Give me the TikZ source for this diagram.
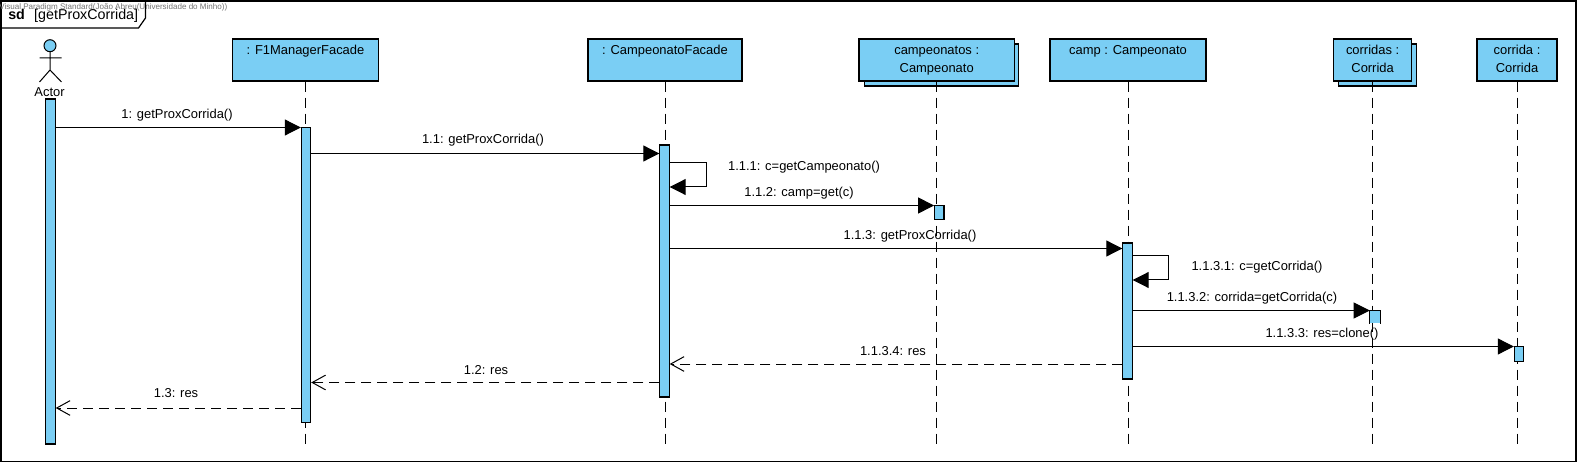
\documentclass[tikz,border=0pt]{standalone}
\usepackage{fontspec}
\setmainfont{Liberation Sans}
\usetikzlibrary{arrows.meta}
\definecolor{objblue}{HTML}{7ACEF4}
\tikzset{
  msgfont/.style={font=\fontsize{9.7}{13.5}\selectfont},
  objbox/.style={draw,line width=0.9pt,fill=objblue,inner sep=0pt,align=center,msgfont},
  actbar/.style={draw,line width=0.8pt,fill=objblue,inner sep=0pt,minimum width=7pt},
  lifeline/.style={line width=0.75pt,dash pattern=on 7.5pt off 4.5pt},
  callmsg/.style={line width=0.75pt,-{Triangle[length=12pt,width=12pt]}},
  retmsg/.style={line width=0.75pt,dash pattern=on 7.5pt off 4.5pt,-{Straight Barb[length=10pt,width=11pt]}},
  msglabel/.style={msgfont,inner sep=0pt,yshift=-1pt},
}
\begin{document}
\begin{tikzpicture}[x=0.75pt,y=0.75pt,yscale=-1,xscale=1]
\useasboundingbox (0,0) rectangle (1578,463);

%Frame
\draw [line width=0.9pt] (1,1) rectangle (1576,461.7);
\node (credit) [anchor=west,inner sep=0pt,text=black!55,font=\fontsize{6.05}{7}\selectfont] at (-1,7.5) {Visual Paradigm Standard(João Abreu(Universidade do Minho))};
\draw [line width=0.9pt] (1,28) -- (138.5,28) -- (145.5,18) -- (145.5,1);
\node (title) [anchor=west,inner sep=0pt,font=\fontsize{10.7}{12}\selectfont] at (8,15.5) {\textbf{sd}\hspace{7pt}[getProxCorrida]};

%Objects
\node (f1) [objbox,minimum width=110pt,minimum height=31.5pt] at (305.5,60) {\strut: F1ManagerFacade\\ \strut};
\node (facade) [objbox,minimum width=115.5pt,minimum height=31.5pt] at (665,60) {\strut: CampeonatoFacade\\ \strut};
\node (campsback) [objbox,minimum width=116pt,minimum height=31.5pt] at (941.5,65) {};
\node (camps) [objbox,minimum width=116.5pt,minimum height=31.5pt] at (936.7,60) {\strut campeonatos :\\ \strut Campeonato};
\node (camp) [objbox,minimum width=117pt,minimum height=31.5pt] at (1128,60) {\strut camp : Campeonato\\ \strut};
\node (corrsback) [objbox,minimum width=58.5pt,minimum height=31.5pt] at (1377.7,65) {};
\node (corrs) [objbox,minimum width=58.5pt,minimum height=31.5pt] at (1372.6,60) {\strut corridas :\\ \strut Corrida};
\node (corr) [objbox,minimum width=60pt,minimum height=31.5pt] at (1517,60) {\strut corrida :\\ \strut Corrida};

%Lifelines
\coordinate (f1end) at (f1.south |- 0,446.7);
\coordinate (facadeend) at (facade.south |- 0,446.7);
\coordinate (campsend) at (camps.south |- 0,446.7);
\coordinate (campend) at (camp.south |- 0,446.7);
\coordinate (corrsend) at (corrs.south |- 0,446.7);
\coordinate (corrend) at (corr.south |- 0,446.7);
\foreach \o in {f1,facade,camps,camp,corrs,corr}
  \draw [lifeline] (\o.south) -- (\o end);

%Actor
\draw [line width=0.75pt,fill=objblue] (50,45.7) circle [radius=6];
\coordinate (neck) at (50,51.7);
\coordinate (hip) at (50,70);
\coordinate (armL) at (39.5,58);
\coordinate (armR) at (61.5,58);
\coordinate (legL) at (39.5,82);
\coordinate (legR) at (61.5,82);
\draw [line width=0.75pt] (neck) -- (hip) (armL) -- (armR) (legL) -- (hip) -- (legR);
\node (actor) [msglabel] at (49.5,90.5) {Actor};

%Activations
\node (actActor) [actbar,minimum height=258.75pt] at (50.5,271.5) {};
\node (actF1) [actbar,minimum height=221.25pt] at (306,274.7) {};
\node (actFacade) [actbar,minimum height=189pt] at (664.5,271) {};
\node (actCamps) [actbar,minimum height=10.5pt] at (939.3,212.5) {};
\node (actCamp) [actbar,minimum height=102pt] at (1127.5,311) {};
\node (actCorrs) [fill=objblue,inner sep=0pt,minimum width=7.5pt,minimum height=9.5pt] at (1375,317) {};
\draw [line width=0.8pt] (actCorrs.south west) |- (actCorrs.north east) -- (actCorrs.south east);
\node (actCorr) [actbar,minimum height=11pt] at (1519,353.7) {};

%Messages
\coordinate (m1) at (0,127.5);
\coordinate (m11) at (0,153.5);
\coordinate (m112) at (0,205.5);
\coordinate (m113) at (0,248.5);
\coordinate (m1132) at (0,310.5);
\coordinate (m1133) at (0,346.5);
\coordinate (m1134) at (0,364);
\coordinate (m12) at (0,382.5);
\coordinate (m13) at (0,408);
\draw [callmsg] (actActor.east |- m1) -- (actF1.west |- m1);
\draw [callmsg] (actF1.east |- m11) -- (actFacade.west |- m11);
\draw [callmsg] (actFacade.east |- m112) -- (actCamps.west |- m112);
\draw [callmsg] (actFacade.east |- m113) -- (actCamp.west |- m113);
\draw [callmsg] (actCamp.east |- m1132) -- (actCorrs.west |- m1132);
\draw [callmsg] (actCamp.east |- m1133) -- (actCorr.west |- m1133);
\draw [retmsg] (actCamp.west |- m1134) -- (actFacade.east |- m1134);
\draw [retmsg] (actFacade.west |- m12) -- (actF1.east |- m12);
\draw [retmsg] (actF1.west |- m13) -- (actActor.east |- m13);
%Self calls
\coordinate (s1a) at (0,163);
\coordinate (s1b) at (0,187);
\coordinate (s2a) at (0,256);
\coordinate (s2b) at (0,280);
\draw [callmsg] (actFacade.east |- s1a) -- ++(37,0) |- (actFacade.east |- s1b);
\draw [callmsg] (actCamp.east |- s2a) -- ++(36,0) |- (actCamp.east |- s2b);

% Text Node
\node (l1) [msglabel] at (177,113.5) {1: getProxCorrida()};
\node (l11) [msglabel] at (483,139) {1.1: getProxCorrida()};
\node (l111) [msglabel] at (804,166) {1.1.1: c=getCampeonato()};
\node (l112) [msglabel] at (799,192) {1.1.2: camp=get(c)};
\node (l113) [msglabel] at (910,235) {1.1.3: getProxCorrida()};
\node (l1131) [msglabel] at (1257,266) {1.1.3.1: c=getCorrida()};
\node (l1132) [msglabel] at (1252,297) {1.1.3.2: corrida=getCorrida(c)};
\node (l1133) [msglabel] at (1322,333) {1.1.3.3: res=clone()};
\node (l1134) [msglabel] at (893,350) {1.1.3.4: res};
\node (l12) [msglabel] at (486,368.5) {1.2: res};
\node (l13) [msglabel] at (176,391.5) {1.3: res};
\end{tikzpicture}
\end{document}
